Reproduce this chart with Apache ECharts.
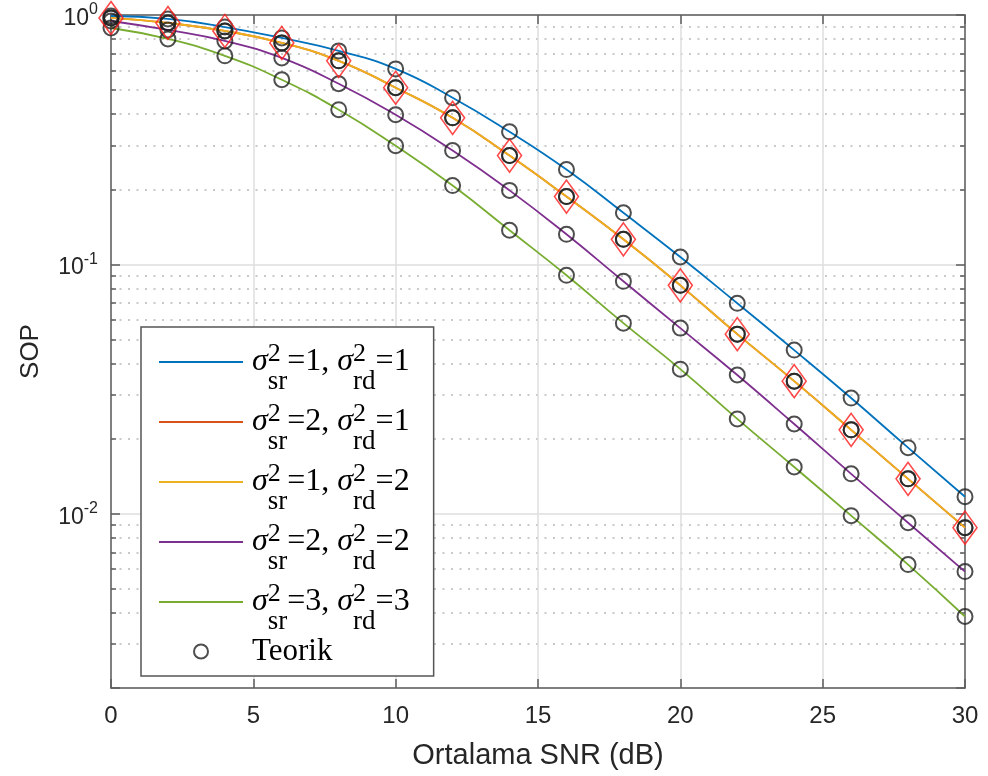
<!DOCTYPE html>
<html><head><meta charset="utf-8">
<script src="https://cdn.jsdelivr.net/npm/echarts@6/dist/echarts.min.js"></script>
<style>html,body{margin:0;padding:0;background:#fff}#c{width:988px;height:776px}</style>
</head><body><div id="c"></div>
<script>
// ---- data ----
const snr = [0,2,4,6,8,10,12,14,16,18,20,22,24,26,28,30];
const sop11 = [0.991,0.964,0.895,0.809,0.718,0.608,0.466,0.340,0.240,0.161,0.107,0.0698,0.0453,0.0291,0.0184,0.0117];
const sop21 = [0.973,0.929,0.863,0.773,0.655,0.511,0.387,0.273,0.187,0.126,0.0824,0.0525,0.0340,0.0217,0.0138,0.00879];
const sop12 = [0.973,0.929,0.863,0.773,0.655,0.511,0.387,0.273,0.187,0.126,0.0824,0.0525,0.0340,0.0217,0.0138,0.00879];
const sop22 = [0.946,0.871,0.787,0.673,0.530,0.398,0.286,0.198,0.132,0.0855,0.0555,0.0360,0.0229,0.01445,0.0092,0.00586];
const sop33 = [0.887,0.802,0.686,0.550,0.417,0.299,0.207,0.137,0.0904,0.0581,0.0380,0.0240,0.0154,0.00982,0.00625,0.00387];
const sigmaSR = [1,2,1,2,3];
const sigmaRD = [1,1,2,2,3];
const lineColors = ['#0072BD','#D95319','#EDB120','#7E2F8E','#77AC30'];
const xTickStep = 5;
const xMin = 0, xMax = 30;
const yMin = 0.002, yMax = 1;
const theoryName = 'Teorik';

// ---- build ----
const curves = [sop11, sop21, sop12, sop22, sop33];
const lineNames = sigmaSR.map((s,i)=>'σ²sr=' + s + ', σ²rd=' + sigmaRD[i]);
const pairs = arr => snr.map((x,i)=>[x, arr[i]]);
const AX = '#5e5e5e';
const SANS = 'Liberation Sans';
const SERIF = 'Liberation Serif';

const series = [];
curves.forEach((c,i)=>{
  series.push({
    name: lineNames[i], type:'line', data: pairs(c), showSymbol:false, symbol:'none',
    smooth: true, lineStyle:{color: lineColors[i], width:1.8}, itemStyle:{color: lineColors[i]},
    z: 2, silent: true
  });
});
curves.forEach((c)=>{
  series.push({
    name: theoryName, type:'scatter', data: pairs(c), symbol:'circle', symbolSize:15,
    itemStyle:{color:'rgba(0,0,0,0)', borderColor:'#222', borderWidth:2}, z:3, silent:true
  });
});
series.push({
  name:'sim', type:'scatter', data: pairs(sop21), symbol:'diamond', symbolSize:[24,33],
  itemStyle:{color:'rgba(0,0,0,0)', borderColor:'#ff1a1a', borderWidth:1.6}, z:4, silent:true
});

function yLabel(v){
  const l = Math.log10(v), e = Math.round(l);
  if (Math.abs(l - e) > 1e-6) return '';
  return '{b|10}{e|' + e + '}';
}

const axisCommon = {
  axisLine:{show:true, onZero:false, lineStyle:{color:AX, width:1.5}},
  axisTick:{show:true, inside:true, length:9, lineStyle:{color:AX, width:1.5}}
};

const legendData = lineNames.map(n=>({name:n, itemStyle:{color:'rgba(0,0,0,0)', borderWidth:0, opacity:0}}))
  .concat([{name: theoryName}]);

const option = {
  animation:false,
  backgroundColor:'#fff',
  grid:{left:111, top:12, width:854, height:676, containLabel:false},
  xAxis:[Object.assign({
    type:'value', min:xMin, max:xMax, interval:xTickStep, position:'bottom',
    axisLabel:{fontSize:24, color:'#262626', margin:16, fontFamily:SANS},
    splitLine:{show:true, lineStyle:{color:'#dedede', width:1.5}},
    name:'Ortalama SNR (dB)', nameLocation:'middle', nameGap:53,
    nameTextStyle:{fontSize:29, color:'#262626', fontFamily:SANS}
  }, axisCommon), Object.assign({
    type:'value', min:xMin, max:xMax, interval:xTickStep, position:'top',
    axisLabel:{show:false}, splitLine:{show:false}
  }, axisCommon)],
  yAxis:[Object.assign({
    type:'log', logBase:10, min:yMin, max:yMax, position:'left',
    minorTick:{show:true, splitNumber:9, length:5, lineStyle:{color:AX, width:1.5}},
    minorSplitLine:{show:true, lineStyle:{color:'#b8b8b8', width:1.5, type:[2,6.5]}},
    axisLabel:{margin:13, formatter:yLabel, showMinLabel:false,
      rich:{
        b:{fontSize:23, fontFamily:SANS, color:'#262626', verticalAlign:'bottom', lineHeight:30},
        e:{fontSize:16, fontFamily:SANS, color:'#262626', verticalAlign:'top', lineHeight:30, padding:[2,0,0,0]}
      }},
    splitLine:{show:true, lineStyle:{color:'#dedede', width:1.5}},
    name:'SOP', nameLocation:'middle', nameGap:67, nameRotate:90,
    nameTextStyle:{fontSize:26, color:'#262626', fontFamily:SANS}
  }, axisCommon), Object.assign({
    type:'log', logBase:10, min:yMin, max:yMax, position:'right',
    minorTick:{show:true, splitNumber:9, length:5, lineStyle:{color:AX, width:1.5}},
    axisLabel:{show:false}, splitLine:{show:false}
  }, axisCommon)],
  legend:{
    orient:'vertical', left:141, top:327, selectedMode:false,
    data: legendData,
    padding:[2, 24, 2, 17], itemWidth:84, itemHeight:14, itemGap:-6,
    backgroundColor:'#fff', borderColor:'#555', borderWidth:1.5,
    formatter: function(name){
      const i = lineNames.indexOf(name);
      if (i < 0) return '{t|' + name + '}';
      return '{s|σ}{p|2}{b|sr}{n|=' + sigmaSR[i] + ', }{s2|σ}{p|2}{b|rd}{n|=' + sigmaRD[i] + '}';
    },
    textStyle:{
      color:'#000', fontFamily:SERIF,
      rich:{
        s:{fontFamily:SERIF, fontStyle:'italic', fontSize:32, lineHeight:66, color:'#000', padding:[0,0,0,4]},
        s2:{fontFamily:SERIF, fontStyle:'italic', fontSize:32, lineHeight:66, color:'#000'},
        n:{fontFamily:SERIF, fontSize:32, lineHeight:66, color:'#000'},
        p:{fontFamily:SERIF, fontSize:26, lineHeight:44, width:0, verticalAlign:'top', color:'#000', padding:[12,0,0,0]},
        b:{fontFamily:SERIF, fontSize:27, lineHeight:8, verticalAlign:'bottom', color:'#000'},
        t:{fontFamily:SERIF, fontSize:31, lineHeight:44, color:'#000', padding:[7,0,7,4]}
      }
    }
  },
  series: series
};
const chart = echarts.init(document.getElementById('c'), null, {renderer:'canvas'});
chart.setOption(option);
</script></body></html>
